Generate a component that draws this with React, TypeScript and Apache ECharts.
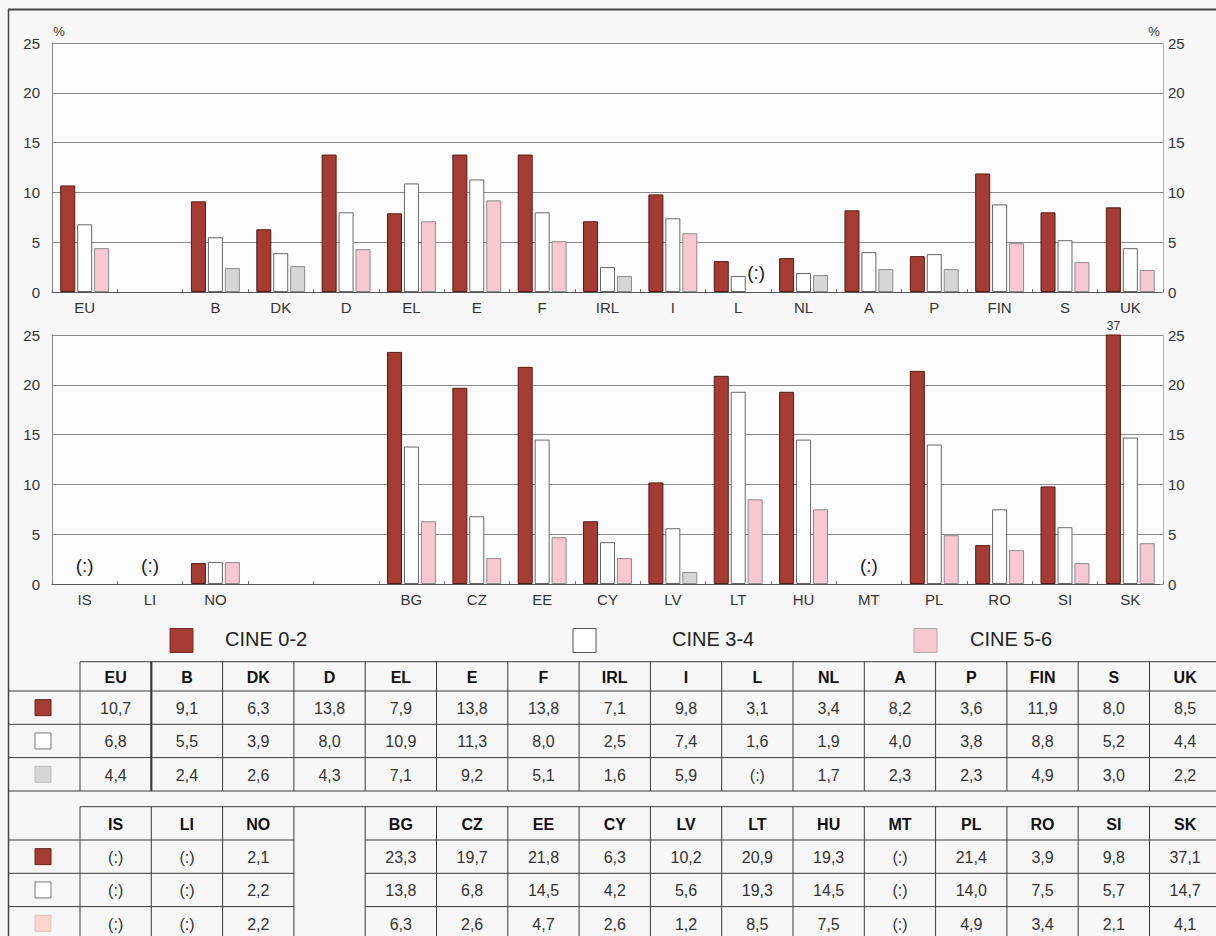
import React, { useEffect, useRef } from 'react';
import * as echarts from 'echarts';

const FONT = "'Liberation Sans', Arial, Helvetica, sans-serif";

// ---- data ----
const seriesNames = ['CINE 0-2', 'CINE 3-4', 'CINE 5-6'];

const euCountries = ['EU', 'B', 'DK', 'D', 'EL', 'E', 'F', 'IRL', 'I', 'L', 'NL', 'A', 'P', 'FIN', 'S', 'UK'];
const euCine02 = [10.7, 9.1, 6.3, 13.8, 7.9, 13.8, 13.8, 7.1, 9.8, 3.1, 3.4, 8.2, 3.6, 11.9, 8.0, 8.5];
const euCine34 = [6.8, 5.5, 3.9, 8.0, 10.9, 11.3, 8.0, 2.5, 7.4, 1.6, 1.9, 4.0, 3.8, 8.8, 5.2, 4.4];
const euCine56 = [4.4, 2.4, 2.6, 4.3, 7.1, 9.2, 5.1, 1.6, 5.9, null, 1.7, 2.3, 2.3, 4.9, 3.0, 2.2];

const otherCountries = ['IS', 'LI', 'NO', 'BG', 'CZ', 'EE', 'CY', 'LV', 'LT', 'HU', 'MT', 'PL', 'RO', 'SI', 'SK'];
const otherCine02 = [null, null, 2.1, 23.3, 19.7, 21.8, 6.3, 10.2, 20.9, 19.3, null, 21.4, 3.9, 9.8, 37.1];
const otherCine34 = [null, null, 2.2, 13.8, 6.8, 14.5, 4.2, 5.6, 19.3, 14.5, null, 14.0, 7.5, 5.7, 14.7];
const otherCine56 = [null, null, 2.2, 6.3, 2.6, 4.7, 2.6, 1.2, 8.5, 7.5, null, 4.9, 3.4, 2.1, 4.1];

// chart slots (null = empty slot)
const topSlots = ['EU', null, 'B', 'DK', 'D', 'EL', 'E', 'F', 'IRL', 'I', 'L', 'NL', 'A', 'P', 'FIN', 'S', 'UK'];
const bottomSlots = ['IS', 'LI', 'NO', null, null, 'BG', 'CZ', 'EE', 'CY', 'LV', 'LT', 'HU', 'MT', 'PL', 'RO', 'SI', 'SK'];
// table columns (null = empty column)
const bottomTableCols = ['IS', 'LI', 'NO', null, 'BG', 'CZ', 'EE', 'CY', 'LV', 'LT', 'HU', 'MT', 'PL', 'RO', 'SI', 'SK'];

const yMin = 0;
const yMax = 25;
const yStep = 5;
const clippedLabel = { country: 'SK', text: '37' };
const missingMark = '(:)';

// ---- styles ----
const RED = '#a53c33';
const RED_BORDER = '#5a1a14';
const WHITE = '#ffffff';
const PINK = '#f8c8d2';
const GREY = '#d6d6d6';
const greyThirdTop = ['B', 'DK', 'IRL', 'NL', 'A', 'P'];
const greyThirdBottom = ['LV'];

const fmt = (v: number | null) => (v == null ? missingMark : v.toFixed(1).replace('.', ','));
const pick = (slot: string | null, countries: string[], arr: (number | null)[]) =>
  slot == null ? null : arr[countries.indexOf(slot)];
const axisNames = (slots: (string | null)[]) => slots.map((s, i) => (s == null ? ' '.repeat(i + 1) : s));

function buildOption() {
  const topAxis = axisNames(topSlots);
  const botAxis = axisNames(bottomSlots);

  const commonX = (gridIndex: number, data: string[]) => ({
    type: 'category',
    gridIndex,
    data,
    axisLine: { show: true, lineStyle: { color: '#555', width: 1 } },
    axisTick: { show: true, inside: true, length: 3, lineStyle: { color: '#777' } },
    axisLabel: { fontFamily: FONT, fontSize: 15, color: '#333', margin: 8, interval: 0 },
    splitLine: { show: false },
  });
  const leftY = (gridIndex: number) => ({
    type: 'value',
    gridIndex,
    min: yMin,
    max: yMax,
    interval: yStep,
    position: 'left',
    axisLine: { show: true, lineStyle: { color: '#888' } },
    axisTick: { show: false },
    axisLabel: { fontFamily: FONT, fontSize: 15, color: '#333', margin: 12 },
    splitLine: { show: true, lineStyle: { color: '#8a8a8a', width: 1 } },
  });
  const rightY = (gridIndex: number) => ({
    type: 'value',
    gridIndex,
    min: yMin,
    max: yMax,
    interval: yStep,
    position: 'right',
    axisLine: { show: true, lineStyle: { color: '#a8acd8' } },
    axisTick: { show: true, length: 3, inside: true, lineStyle: { color: '#888' } },
    axisLabel: { fontFamily: FONT, fontSize: 15, color: '#333', margin: 5 },
    splitLine: { show: false },
  });

  const barBase = { type: 'bar', barWidth: 15, barGap: '13%', clip: true };
  const styles = [
    { color: RED, borderColor: RED_BORDER, borderWidth: 1 },
    { color: WHITE, borderColor: '#666', borderWidth: 1 },
    { color: PINK, borderColor: '#8c8c8c', borderWidth: 1 },
  ];

  const topArrays = [euCine02, euCine34, euCine56];
  const botArrays = [otherCine02, otherCine34, otherCine56];

  const series: any[] = [];
  topArrays.forEach((arr, si) => {
    const data = topSlots.map((s) => {
      const v = pick(s, euCountries, arr);
      if (si === 2 && s && greyThirdTop.includes(s)) return { value: v, itemStyle: { color: GREY } };
      return v;
    });
    const s: any = { ...barBase, name: seriesNames[si], xAxisIndex: 0, yAxisIndex: 0, data, itemStyle: styles[si] };
    if (si === 2) {
      const miss = topSlots.filter((c) => c && pick(c, euCountries, arr) == null);
      s.markPoint = {
        symbol: 'rect',
        symbolSize: 1,
        itemStyle: { color: 'rgba(0,0,0,0)' },
        label: { show: true, formatter: missingMark, fontFamily: FONT, fontSize: 19, color: '#222', offset: [1, -20] },
        data: miss.map((c) => ({ coord: [c, 0] })),
      };
    }
    series.push(s);
  });
  botArrays.forEach((arr, si) => {
    const data = bottomSlots.map((s) => {
      const v = pick(s, otherCountries, arr);
      if (si === 2 && s && greyThirdBottom.includes(s)) return { value: v, itemStyle: { color: GREY } };
      return v;
    });
    const s: any = { ...barBase, name: seriesNames[si], xAxisIndex: 1, yAxisIndex: 2, data, itemStyle: styles[si] };
    if (si === 1) {
      const miss = bottomSlots.filter(
        (c) => c && otherCountries.indexOf(c) >= 0 && botArrays.every((a) => pick(c, otherCountries, a) == null)
      );
      s.markPoint = {
        symbol: 'rect',
        symbolSize: 1,
        itemStyle: { color: 'rgba(0,0,0,0)' },
        label: { show: true, formatter: missingMark, fontFamily: FONT, fontSize: 19, color: '#222', offset: [0, -19] },
        data: miss.map((c) => ({ coord: [c, 0] })),
      };
    }
    if (si === 0) {
      s.markPoint = {
        symbol: 'rect',
        symbolSize: 1,
        itemStyle: { color: 'rgba(0,0,0,0)' },
        label: {
          show: true,
          formatter: clippedLabel.text,
          fontFamily: FONT,
          fontSize: 12,
          color: '#333',
          offset: [0, -9],
        },
        data: [{ coord: [clippedLabel.country, yMax] }],
      };
    }
    series.push(s);
  });

  // ---- graphic: frame, % signs, legend, tables ----
  const g: any[] = [];
  const line = (x1: number, y1: number, x2: number, y2: number, w = 1, c = '#3a3a3a') =>
    g.push({ type: 'line', silent: true, shape: { x1, y1, x2, y2 }, style: { stroke: c, lineWidth: w } });
  const text = (x: number, y: number, t: string, size: number, weight = 'normal', color = '#222', align = 'center') =>
    g.push({
      type: 'text',
      silent: true,
      x,
      y,
      style: {
        text: t,
        fill: color,
        fontFamily: FONT,
        fontSize: size,
        fontWeight: weight,
        align,
        verticalAlign: 'middle',
        textAlign: align,
        textVerticalAlign: 'middle',
      },
    });
  const rect = (x: number, y: number, w: number, h: number, fill: string, stroke: string) =>
    g.push({ type: 'rect', silent: true, shape: { x, y, width: w, height: h }, style: { fill, stroke, lineWidth: 1 } });

  // frame
  line(8, 9.5, 1216, 9.5, 2, '#444');
  line(8.5, 9, 8.5, 936, 1.5, '#444');

  // % signs
  text(59, 31, '%', 13, 'normal', '#333');
  text(1154, 31, '%', 13, 'normal', '#333');

  // legend
  const legendItems = [
    { sx: 170, tx: 225, fill: RED, stroke: '#7a2a22' },
    { sx: 573, tx: 672, fill: WHITE, stroke: '#555' },
    { sx: 914, tx: 970, fill: PINK, stroke: '#aaa' },
  ];
  legendItems.forEach((li, i) => {
    rect(li.sx, 628.5, 23, 24, li.fill, li.stroke);
    text(li.tx, 639, seriesNames[i], 20, 'normal', '#222', 'left');
  });

  // tables
  const colW = 71.3;
  const x0 = 80;
  const xs = Array.from({ length: 17 }, (_, k) => x0 + k * colW);
  const W = 1216;
  const ys1 = [661.7, 691, 724.3, 757.6, 791];
  const ys2 = [806.7, 840, 873.3, 906.6, 940];
  const iconFills1 = [
    [RED, '#6a221b'],
    [WHITE, '#777'],
    [GREY, '#bbb'],
  ];
  const iconFills2 = [
    [RED, '#6a221b'],
    [WHITE, '#777'],
    ['#fcd5cf', '#e8bdb6'],
  ];

  // table 1
  line(x0, ys1[0], W, ys1[0]);
  for (let r = 1; r < ys1.length; r++) line(8, ys1[r], W, ys1[r]);
  xs.forEach((x, k) => {
    if (x <= W) line(x, ys1[0], x, ys1[4], k === 1 ? 2.2 : 1);
  });
  euCountries.forEach((c, k) => {
    const cx = xs[k] + colW / 2;
    text(cx, (ys1[0] + ys1[1]) / 2 + 1, c, 16, 'bold', '#111');
    [euCine02, euCine34, euCine56].forEach((arr, r) => {
      text(cx, (ys1[r + 1] + ys1[r + 2]) / 2 + 1, fmt(arr[k]), 16, 'normal', '#333');
    });
  });
  iconFills1.forEach(([f, s], r) => rect(35, (ys1[r + 1] + ys1[r + 2]) / 2 - 8, 16, 16, f, s));

  // table 2
  line(x0, ys2[0], W, ys2[0]);
  for (let r = 1; r < 4; r++) {
    line(8, ys2[r], xs[3], ys2[r]);
    line(xs[4], ys2[r], W, ys2[r]);
  }
  xs.forEach((x) => {
    if (x <= W) line(x, ys2[0], x, 936);
  });
  bottomTableCols.forEach((c, k) => {
    if (c == null) return;
    const cx = xs[k] + colW / 2;
    const idx = otherCountries.indexOf(c);
    text(cx, (ys2[0] + ys2[1]) / 2 + 1, c, 16, 'bold', '#111');
    [otherCine02, otherCine34, otherCine56].forEach((arr, r) => {
      text(cx, (ys2[r + 1] + ys2[r + 2]) / 2 + 1, fmt(arr[idx]), 16, 'normal', '#333');
    });
  });
  iconFills2.forEach(([f, s], r) => rect(35, (ys2[r + 1] + ys2[r + 2]) / 2 - 8, 16, 16, f, s));

  return {
    animation: false,
    backgroundColor: '#f7f7f7',
    textStyle: { fontFamily: FONT },
    grid: [
      { left: 52, top: 43, width: 1111, height: 249, show: true, backgroundColor: '#fcfcfc', borderWidth: 0 },
      { left: 52, top: 335, width: 1111, height: 249, show: true, backgroundColor: '#fcfcfc', borderWidth: 0 },
    ],
    xAxis: [commonX(0, topAxis), commonX(1, botAxis)],
    yAxis: [leftY(0), rightY(0), leftY(1), rightY(1)],
    series,
    graphic: g,
  };
}

export default function App() {
  const ref = useRef<HTMLDivElement>(null);
  useEffect(() => {
    if (!ref.current) return;
    const chart = echarts.init(ref.current, undefined, { renderer: 'svg' });
    chart.setOption(buildOption() as any);
    return () => chart.dispose();
  }, []);
  return (
    <div
      ref={ref}
      style={{ position: 'absolute', left: 0, top: 0, width: 1216, height: 936 }}
    />
  );
}
